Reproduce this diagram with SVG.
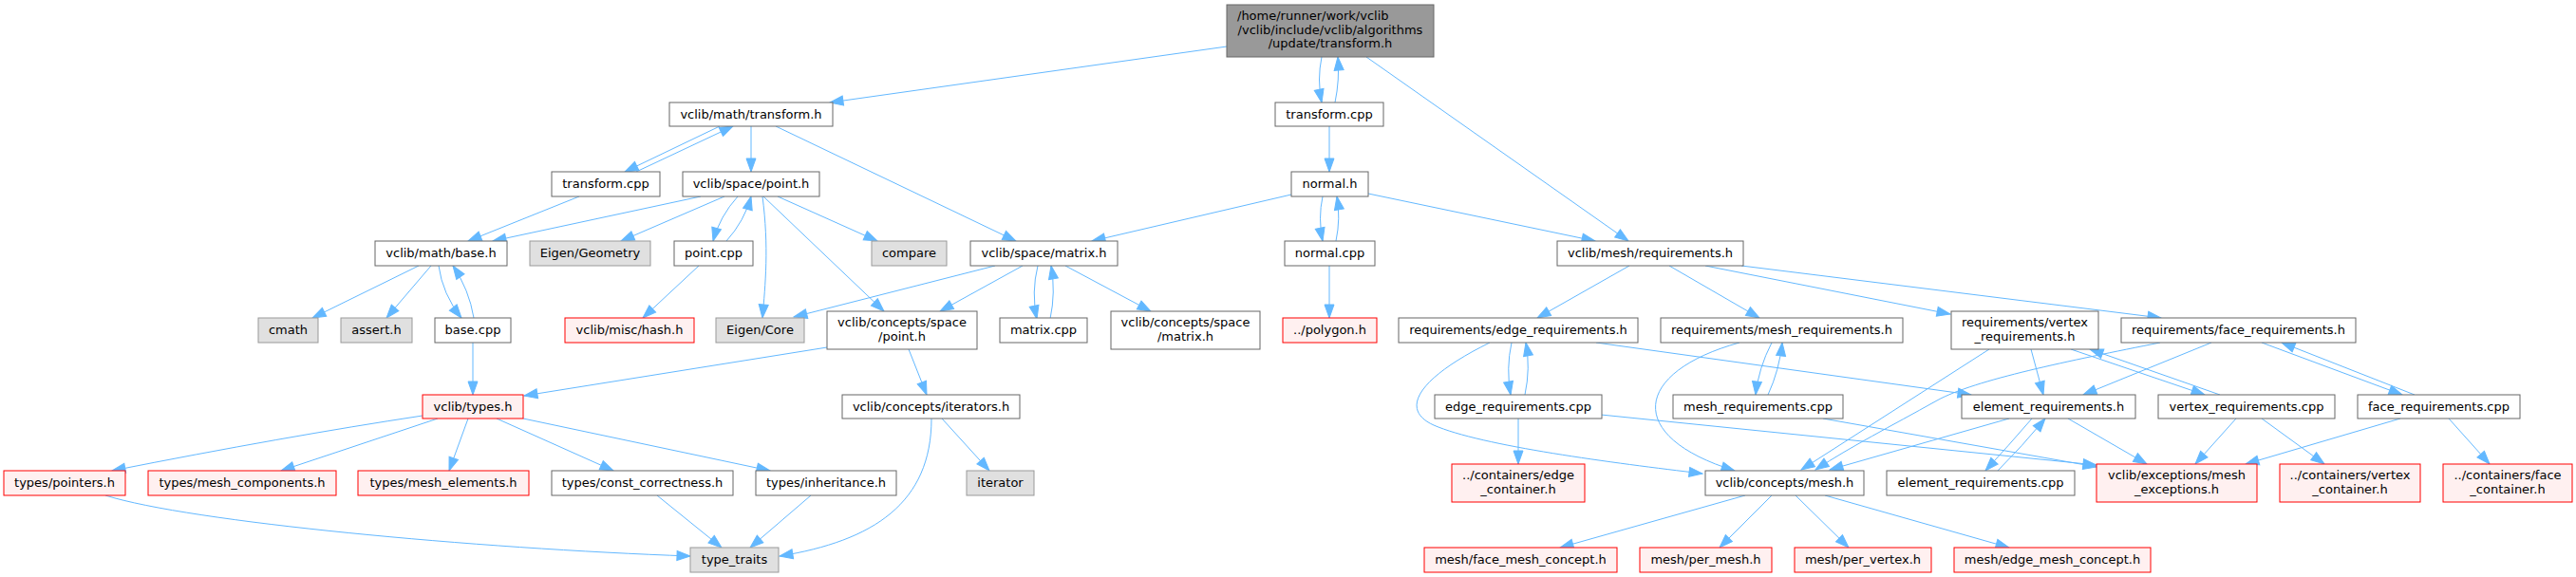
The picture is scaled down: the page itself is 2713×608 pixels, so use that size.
<svg xmlns="http://www.w3.org/2000/svg" width="2713" height="608" viewBox="0 0 2713 608">
<style>
rect{stroke-width:1}
.n rect{fill:#ffffff;stroke:#666666}
.g rect{fill:#e0e0e0;stroke:#999999}
.r rect{fill:#fff0f0;stroke:#ff0000}
.root rect{fill:#999999;stroke:#666666}
text{font-family:"DejaVu Sans","Liberation Sans",sans-serif;font-size:13px;text-anchor:middle;fill:#000000}
#edges path{stroke:#63b8ff;stroke-width:1;fill:none;marker-end:url(#a)}
</style>
<defs>
<marker id="a" markerUnits="userSpaceOnUse" markerWidth="16" markerHeight="12" refX="14" refY="5" orient="auto" overflow="visible">
<path d="M0,0 L14,5 L0,10 z" fill="#63b8ff" stroke="#63b8ff" stroke-width="1"/>
</marker>
</defs>
<rect width="2713" height="608" fill="#ffffff"/>
<g id="edges">
<path d="M1292,49 L874,108"/>
<path d="M1392,60 Q1387,84 1392,108"/>
<path d="M1406,108 Q1411,84 1409,60"/>
<path d="M1439,60 L1715,254"/>
<path d="M1400,133 L1400,181"/>
<path d="M1393,207 Q1388,230 1393,254"/>
<path d="M1407,254 Q1412,230 1408,207"/>
<path d="M1360,205 L1150,254"/>
<path d="M1441,204 L1680,254"/>
<path d="M1400,280 L1400,335"/>
<path d="M758,133 L658,181"/>
<path d="M670,181 L772,133"/>
<path d="M791,133 L791,181"/>
<path d="M817,133 L1070,254"/>
<path d="M610,207 L493,254"/>
<path d="M738,207 L519,254"/>
<path d="M763,207 L654,254"/>
<path d="M777,207 Q758,228 751,254"/>
<path d="M765,254 Q784,233 791,207"/>
<path d="M803,207 C810,260 806,300 803,335"/>
<path d="M804,207 L931,328"/>
<path d="M819,207 L924,254"/>
<path d="M736,280 L677,335"/>
<path d="M1048,280 L836,334"/>
<path d="M1077,280 L990,328"/>
<path d="M1093,280 Q1086,308 1092,336"/>
<path d="M1106,336 Q1112,308 1107,280"/>
<path d="M1122,280 L1212,328"/>
<path d="M871,366 L552,417"/>
<path d="M957,368 L976,416"/>
<path d="M981,441 C981,530 920,570 821,586"/>
<path d="M992,441 L1042,496"/>
<path d="M441,280 L329,335"/>
<path d="M454,280 L407,335"/>
<path d="M462,280 Q466,310 486,335"/>
<path d="M499,335 Q494,305 477,280"/>
<path d="M498,361 L498,416"/>
<path d="M445,438 Q300,460 118,496"/>
<path d="M461,441 L296,496"/>
<path d="M493,441 L473,496"/>
<path d="M523,441 L646,496"/>
<path d="M551,441 L811,496"/>
<path d="M111,522 C200,550 500,578 727,586"/>
<path d="M692,522 L760,577"/>
<path d="M854,522 L790,577"/>
<path d="M1716,280 L1619,335"/>
<path d="M1758,280 L1853,335"/>
<path d="M1796,280 L2054,331"/>
<path d="M1834,280 L2276,335"/>
<path d="M1592,361 Q1586,388 1591,416"/>
<path d="M1606,416 Q1612,388 1607,361"/>
<path d="M1681,361 L2076,416"/>
<path d="M1569,361 C1500,395 1470,430 1510,448 C1560,470 1700,488 1793,499"/>
<path d="M1599,441 L1599,489"/>
<path d="M1686,437 L2208,490"/>
<path d="M1920,441 L2208,492"/>
<path d="M1866,361 Q1852,388 1849,416"/>
<path d="M1862,416 Q1874,390 1877,361"/>
<path d="M1832,361 C1720,392 1710,460 1827,496"/>
<path d="M2095,368 L1897,495"/>
<path d="M2139,368 L2152,416"/>
<path d="M2181,368 L2322,416"/>
<path d="M2338,416 L2201,368"/>
<path d="M2275,361 C2180,380 2080,400 2040,422 C1990,450 1950,470 1912,495"/>
<path d="M2116,441 L1927,495"/>
<path d="M2329,361 L2194,416"/>
<path d="M2382,361 L2530,416"/>
<path d="M2543,416 L2403,361"/>
<path d="M2140,441 Q2115,470 2091,496"/>
<path d="M2104,496 Q2130,470 2154,441"/>
<path d="M2178,441 L2261,489"/>
<path d="M2355,441 L2312,489"/>
<path d="M2382,441 L2448,489"/>
<path d="M2528,441 L2365,489"/>
<path d="M2579,441 L2622,489"/>
<path d="M1838,522 L1643,577"/>
<path d="M1866,522 L1811,577"/>
<path d="M1891,522 L1947,577"/>
<path d="M1922,522 L2116,577"/>
</g>
<g id="root" class="root"><rect x="1292" y="5" width="218" height="55"/><text x="1303" y="21" style="text-anchor:start">/home/runner/work/vclib</text><text x="1401" y="36">/vclib/include/vclib/algorithms</text><text x="1401" y="50">/update/transform.h</text></g>
<g id="n_th" class="n"><rect x="705" y="108" width="172" height="25"/><text x="791" y="124.5">vclib/math/transform.h</text></g>
<g id="n_tc1" class="n"><rect x="581" y="181" width="114" height="26"/><text x="638" y="198">transform.cpp</text></g>
<g id="n_tc2" class="n"><rect x="1343" y="108" width="114" height="25"/><text x="1400" y="124.5">transform.cpp</text></g>
<g id="n_ph" class="n"><rect x="719" y="181" width="144" height="26"/><text x="791" y="198">vclib/space/point.h</text></g>
<g id="n_nh" class="n"><rect x="1360" y="181" width="81" height="26"/><text x="1400.5" y="198">normal.h</text></g>
<g id="n_bh" class="n"><rect x="395" y="254" width="139" height="26"/><text x="464.5" y="271">vclib/math/base.h</text></g>
<g id="n_eg" class="g"><rect x="558" y="254" width="127" height="26"/><text x="621.5" y="271">Eigen/Geometry</text></g>
<g id="n_pc" class="n"><rect x="710" y="254" width="83" height="26"/><text x="751.5" y="271">point.cpp</text></g>
<g id="n_cmp" class="g"><rect x="918" y="254" width="79" height="26"/><text x="957.5" y="271">compare</text></g>
<g id="n_mh" class="n"><rect x="1022" y="254" width="155" height="26"/><text x="1099.5" y="271">vclib/space/matrix.h</text></g>
<g id="n_nc" class="n"><rect x="1353" y="254" width="95" height="26"/><text x="1400.5" y="271">normal.cpp</text></g>
<g id="n_req" class="n"><rect x="1640" y="254" width="196" height="26"/><text x="1738" y="271">vclib/mesh/requirements.h</text></g>
<g id="n_cmath" class="g"><rect x="272" y="335" width="63" height="26"/><text x="303.5" y="352">cmath</text></g>
<g id="n_assert" class="g"><rect x="359" y="335" width="75" height="26"/><text x="396.5" y="352">assert.h</text></g>
<g id="n_bc" class="n"><rect x="458" y="335" width="80" height="26"/><text x="498" y="352">base.cpp</text></g>
<g id="n_hash" class="r"><rect x="595" y="335" width="136" height="26"/><text x="663" y="352">vclib/misc/hash.h</text></g>
<g id="n_ecore" class="g"><rect x="754" y="335" width="93" height="26"/><text x="800.5" y="352">Eigen/Core</text></g>
<g id="n_cp" class="n"><rect x="871" y="328" width="158" height="40"/><text x="950" y="344">vclib/concepts/space</text><text x="950" y="358.5">/point.h</text></g>
<g id="n_mc" class="n"><rect x="1053" y="335" width="92" height="26"/><text x="1099" y="352">matrix.cpp</text></g>
<g id="n_cm" class="n"><rect x="1170" y="328" width="157" height="40"/><text x="1248.5" y="344">vclib/concepts/space</text><text x="1248.5" y="358.5">/matrix.h</text></g>
<g id="n_poly" class="r"><rect x="1351" y="335" width="99" height="26"/><text x="1400.5" y="352">../polygon.h</text></g>
<g id="n_erh" class="n"><rect x="1473" y="335" width="252" height="26"/><text x="1599" y="352">requirements/edge_requirements.h</text></g>
<g id="n_mrh" class="n"><rect x="1749" y="335" width="255" height="26"/><text x="1876.5" y="352">requirements/mesh_requirements.h</text></g>
<g id="n_vrh" class="n"><rect x="2055" y="328" width="155" height="40"/><text x="2132.5" y="344">requirements/vertex</text><text x="2132.5" y="358.5">_requirements.h</text></g>
<g id="n_frh" class="n"><rect x="2234" y="335" width="247" height="26"/><text x="2357.5" y="352">requirements/face_requirements.h</text></g>
<g id="n_types" class="r"><rect x="445" y="416" width="106" height="25"/><text x="498" y="432.5">vclib/types.h</text></g>
<g id="n_it" class="n"><rect x="887" y="416" width="187" height="25"/><text x="980.5" y="432.5">vclib/concepts/iterators.h</text></g>
<g id="n_erc" class="n"><rect x="1511" y="416" width="176" height="25"/><text x="1599" y="432.5">edge_requirements.cpp</text></g>
<g id="n_mrc" class="n"><rect x="1762" y="416" width="179" height="25"/><text x="1851.5" y="432.5">mesh_requirements.cpp</text></g>
<g id="n_elh" class="n"><rect x="2066" y="416" width="183" height="25"/><text x="2157.5" y="432.5">element_requirements.h</text></g>
<g id="n_vrc" class="n"><rect x="2273" y="416" width="186" height="25"/><text x="2366" y="432.5">vertex_requirements.cpp</text></g>
<g id="n_frc" class="n"><rect x="2483" y="416" width="171" height="25"/><text x="2568.5" y="432.5">face_requirements.cpp</text></g>
<g id="n_ptr" class="r"><rect x="4" y="496" width="128" height="26"/><text x="68" y="513">types/pointers.h</text></g>
<g id="n_mcomp" class="r"><rect x="156" y="496" width="198" height="26"/><text x="255" y="513">types/mesh_components.h</text></g>
<g id="n_melem" class="r"><rect x="377" y="496" width="180" height="26"/><text x="467" y="513">types/mesh_elements.h</text></g>
<g id="n_cc" class="n"><rect x="581" y="496" width="191" height="26"/><text x="676.5" y="513">types/const_correctness.h</text></g>
<g id="n_inh" class="n"><rect x="796" y="496" width="148" height="26"/><text x="870" y="513">types/inheritance.h</text></g>
<g id="n_iter" class="g"><rect x="1018" y="496" width="71" height="26"/><text x="1053.5" y="513">iterator</text></g>
<g id="n_ec" class="r"><rect x="1529" y="489" width="140" height="40"/><text x="1599" y="505">../containers/edge</text><text x="1599" y="519.5">_container.h</text></g>
<g id="n_cmesh" class="n"><rect x="1796" y="496" width="167" height="26"/><text x="1879.5" y="513">vclib/concepts/mesh.h</text></g>
<g id="n_elc" class="n"><rect x="1987" y="496" width="198" height="26"/><text x="2086" y="513">element_requirements.cpp</text></g>
<g id="n_mex" class="r"><rect x="2208" y="489" width="169" height="40"/><text x="2292.5" y="505">vclib/exceptions/mesh</text><text x="2292.5" y="519.5">_exceptions.h</text></g>
<g id="n_vc" class="r"><rect x="2401" y="489" width="148" height="40"/><text x="2475" y="505">../containers/vertex</text><text x="2475" y="519.5">_container.h</text></g>
<g id="n_fc" class="r"><rect x="2573" y="489" width="136" height="40"/><text x="2641" y="505">../containers/face</text><text x="2641" y="519.5">_container.h</text></g>
<g id="n_tt" class="g"><rect x="727" y="577" width="93" height="26"/><text x="773.5" y="594">type_traits</text></g>
<g id="n_fmc" class="r"><rect x="1500" y="577" width="203" height="26"/><text x="1601.5" y="594">mesh/face_mesh_concept.h</text></g>
<g id="n_pm" class="r"><rect x="1727" y="577" width="139" height="26"/><text x="1796.5" y="594">mesh/per_mesh.h</text></g>
<g id="n_pv" class="r"><rect x="1890" y="577" width="144" height="26"/><text x="1962" y="594">mesh/per_vertex.h</text></g>
<g id="n_emc" class="r"><rect x="2058" y="577" width="207" height="26"/><text x="2161.5" y="594">mesh/edge_mesh_concept.h</text></g>
</svg>
